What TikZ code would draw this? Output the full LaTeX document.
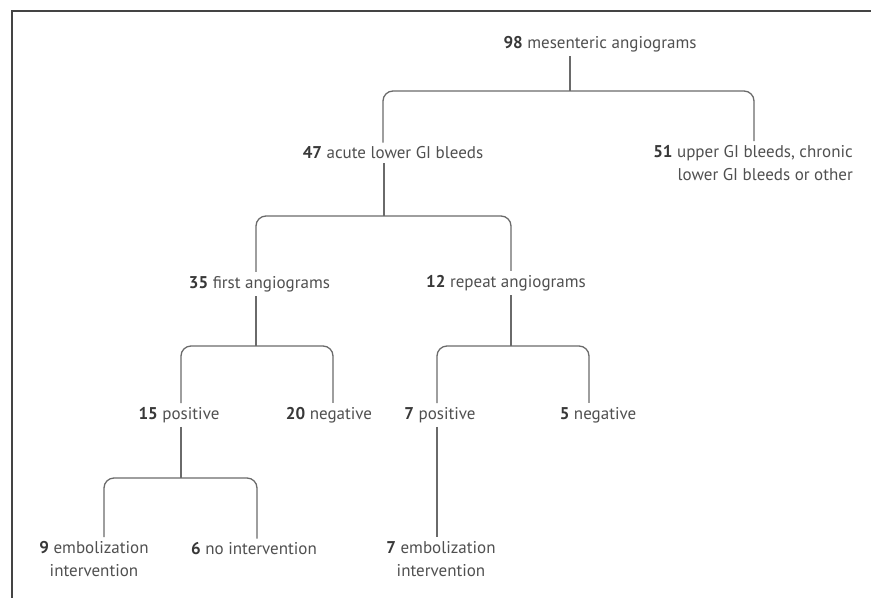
\documentclass[tikz,border=0pt]{standalone}
\usepackage{fontspec}
\setmainfont{PT Sans}
\definecolor{txt}{HTML}{505050}
\definecolor{num}{HTML}{383838}
\definecolor{ln}{HTML}{6A6A6A}
\definecolor{frm}{HTML}{444444}
\newcommand{\nb}[1]{\textbf{\color{num}#1}}
\begin{document}
\begin{tikzpicture}[x=1pt,y=-1pt,
  lbl/.style={inner xsep=0pt, inner ysep=4pt, text=txt, font=\fontsize{17}{23}\selectfont},
  conn/.style={draw=ln, line width=1.3pt},
  brk/.style={conn, rounded corners=10pt}]
\useasboundingbox (0,0) rectangle (871,598);
\fill[white] (0,0) rectangle (871,598);
% frame
\draw[frm, line width=2pt] (871,11) -- (12,11) -- (12,598);
% nodes
\node[lbl] (n98) at (600,44) {\nb{98} mesenteric angiograms};
\node[lbl] (n47) at (393,153) {\nb{47} acute lower GI bleeds};
\node[lbl, align=right, anchor=north east] (n51) at (853,141) {\nb{51} upper GI bleeds, chronic\\lower GI bleeds or other};
\node[lbl] (n35) at (259.5,284) {\nb{35} first angiograms};
\node[lbl] (n12) at (506,283) {\nb{12} repeat angiograms};
\node[lbl] (n15) at (179,415) {\nb{15} positive};
\node[lbl] (n20) at (329,415) {\nb{20} negative};
\node[lbl] (n7p) at (440,415) {\nb{7} positive};
\node[lbl] (n5) at (598,415) {\nb{5} negative};
\node[lbl, align=center, anchor=north] (n9) at (94,537) {\nb{9} embolization\\intervention};
\node[lbl] (n6) at (254,549) {\nb{6} no intervention};
\node[lbl, align=center, anchor=north] (n7e) at (441,537) {\nb{7} embolization\\intervention};
% junction coordinates
\coordinate (j1) at (570,91);  \coordinate (l1) at (383,91);  \coordinate (r1) at (754,91);
\coordinate (j2) at (384,216); \coordinate (l2) at (256,216); \coordinate (r2) at (511,216);
\coordinate (j3) at (256,346); \coordinate (l3) at (181,346); \coordinate (r3) at (333,346);
\coordinate (j4) at (511,346); \coordinate (l4) at (437,346); \coordinate (r4) at (589,346);
\coordinate (j5) at (181,478); \coordinate (l5) at (104,478); \coordinate (r5) at (257,478);
\coordinate (x7) at (437,0);
% connectors
\draw[conn] (n98.south -| j1) -- (j1);
\draw[brk] (n47.north -| l1) |- (j1) -| (r1 |- n51.north);
\draw[conn] (n47.south -| j2) -- (j2);
\draw[brk] (n35.north -| l2) |- (j2) -| (n12.north -| r2);
\draw[conn] (n35.south -| j3) -- (j3);
\draw[brk] (n15.north -| l3) |- (j3) -| (n20.north -| r3);
\draw[conn] (n12.south -| j4) -- (j4);
\draw[brk] (n7p.north -| l4) |- (j4) -| (n5.north -| r4);
\draw[conn] (n15.south -| j5) -- (j5);
\draw[brk] (n9.north -| l5) |- (j5) -| (n6.north -| r5);
\draw[conn] (n7p.south -| x7) -- (n7e.north -| x7);
\end{tikzpicture}
\end{document}
